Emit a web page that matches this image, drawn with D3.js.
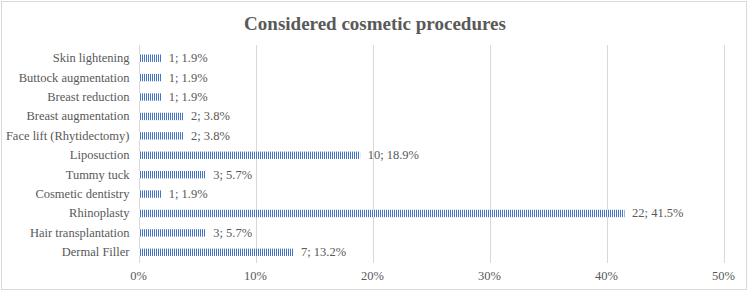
<!DOCTYPE html>
<html>
<head>
<meta charset="utf-8">
<script src="https://cdn.jsdelivr.net/npm/d3@7"></script>
<style>
  html, body { margin: 0; padding: 0; background: #fff; }
  svg { display: block; }
  svg text { font-family: "Liberation Serif", "Times New Roman", "DejaVu Serif", serif; }
  .grid line { stroke: #d9d9d9; stroke-width: 1; }
  .tick-label, .cat-label, .val-label { fill: #595959; font-size: 12.5px; }
  .title { fill: #595959; font-size: 19px; font-weight: bold; }
</style>
</head>
<body>
<svg width="750" height="293"></svg>
<script>
const WIDTH = 750;
const HEIGHT = 293;

const categories = [
  "Skin lightening", "Buttock augmentation", "Breast reduction", "Breast augmentation",
  "Face lift (Rhytidectomy)", "Liposuction", "Tummy tuck", "Cosmetic dentistry",
  "Rhinoplasty", "Hair transplantation", "Dermal Filler"
];
const counts = [1, 1, 1, 2, 2, 10, 3, 1, 22, 3, 7];
const percents = [1.9, 1.9, 1.9, 3.8, 3.8, 18.9, 5.7, 1.9, 41.5, 5.7, 13.2];
const ticks = [0, 10, 20, 30, 40, 50];

const svg = d3.select("svg");

// chart frame
svg.append("rect")
  .attr("x", 1.5).attr("y", 1.5)
  .attr("width", WIDTH - 5).attr("height", HEIGHT - 5)
  .attr("fill", "#fff").attr("stroke", "#d9d9d9");

// vertical-stripe pattern for bars
const pattern = svg.append("defs").append("pattern")
  .attr("id", "stripes")
  .attr("patternUnits", "userSpaceOnUse")
  .attr("width", 2).attr("height", 10);
pattern.append("rect").attr("width", 2).attr("height", 10).attr("fill", "#ffffff");
pattern.append("rect").attr("width", 1).attr("height", 10).attr("fill", "#4472c4");

svg.append("text")
  .classed("title", true)
  .attr("x", 375).attr("y", 30)
  .attr("text-anchor", "middle")
  .text("Considered cosmetic procedures");

const x = d3.scaleLinear().domain([0, 50]).range([138.5, 723.5]);
const y = d3.scaleBand().domain(categories).range([48.5, 262]).paddingInner(0.62).paddingOuter(0.31);

const grid = svg.append("g").classed("grid", true);
grid.selectAll("line")
  .data(ticks)
  .enter()
  .append("line")
  .attr("x1", (d) => Math.round(x(d)) + 0.5)
  .attr("x2", (d) => Math.round(x(d)) + 0.5)
  .attr("y1", 45)
  .attr("y2", 263);

svg.append("g")
  .selectAll("text")
  .data(ticks)
  .enter()
  .append("text")
  .classed("tick-label", true)
  .attr("x", (d) => x(d))
  .attr("y", 280)
  .attr("text-anchor", "middle")
  .text((d) => `${d}%`);

const rows = svg.append("g")
  .selectAll("g")
  .data(categories.map((c, i) => ({ name: c, count: counts[i], pct: percents[i] })))
  .enter()
  .append("g");

rows.append("rect")
  .attr("x", x(0) + 0.5)
  .attr("y", (d) => y(d.name))
  .attr("width", (d) => x(d.pct) - x(0))
  .attr("height", y.bandwidth())
  .attr("fill", "url(#stripes)");

rows.append("text")
  .classed("cat-label", true)
  .attr("x", x(0) - 9)
  .attr("y", (d) => y(d.name) + y.bandwidth() / 2 + 4)
  .attr("text-anchor", "end")
  .text((d) => d.name);

rows.append("text")
  .classed("val-label", true)
  .attr("x", (d) => x(d.pct) + 8)
  .attr("y", (d) => y(d.name) + y.bandwidth() / 2 + 4)
  .text((d) => `${d.count}; ${d.pct}%`);
</script>
</body>
</html>
